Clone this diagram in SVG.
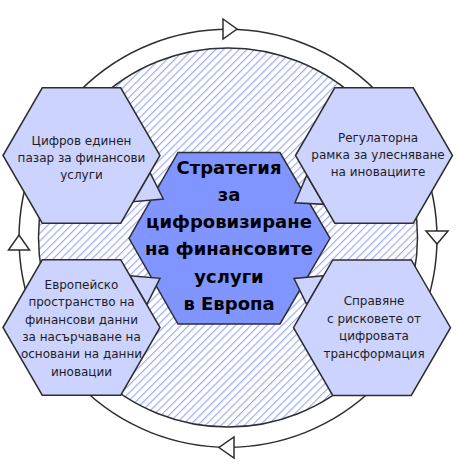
<svg xmlns="http://www.w3.org/2000/svg" width="458" height="467" viewBox="0 0 458 467">
<style>
.ring{fill:none;stroke:#2e2e2e;stroke-width:1.5}
.inner{fill:url(#hatch);stroke:#2e2e2e;stroke-width:1.5}
.arr{fill:#ffffff;stroke:#2e2e2e;stroke-width:1.5;stroke-linejoin:miter}
.hex{fill:#ccd3ff;stroke:#2e2e2e;stroke-width:1.5;stroke-linejoin:miter}
.core{fill:#8095ff;stroke:#2e2e2e;stroke-width:1.5}
.lbl{font-family:"DejaVu Sans","Liberation Sans",sans-serif;font-size:12px;fill:#1e1e1e;text-anchor:middle}
.title{font-family:"DejaVu Sans","Liberation Sans",sans-serif;font-size:18px;font-weight:bold;fill:#000000;text-anchor:middle}
</style>
<defs>
<pattern id="hatch" width="5.5" height="5.5" patternUnits="userSpaceOnUse" patternTransform="rotate(45)">
<rect width="5.5" height="5.5" fill="#ffffff"/>
<line x1="0.6" y1="0" x2="0.6" y2="5.5" stroke="#8c9df2" stroke-width="1"/>
</pattern>
</defs>
<rect width="458" height="467" fill="#ffffff"/>
<g id="connectors">
<circle class="ring" cx="228" cy="238.3" r="209"/>
<polygon class="arr" points="223,19 237,29 223,39"/>
<polygon class="arr" points="426,231 448,231 437,244"/>
<polygon class="arr" points="234,437 234,458 219,447.5"/>
<polygon class="arr" points="8.5,250 29.5,250 19,235"/>
<circle class="inner" cx="228" cy="237.5" r="189.5"/>
</g>
<g id="center">
<polygon class="core" points="129,238.3 178,152.5 280,152.5 330,238.3 280,324 178,324"/>
<text class="title" x="229" y="173.5">Стратегия</text>
<text class="title" x="229" y="200.8">за</text>
<text class="title" x="229" y="228.1">цифровизиране</text>
<text class="title" x="229" y="255.4">на финансовите</text>
<text class="title" x="229" y="282.7">услуги</text>
<text class="title" x="229" y="310">в Европа</text>
</g>
<g id="node-top-left">
<polygon class="hex" points="150,172.7 163.3,199 133.2,201.7"/>
<polygon class="hex" points="3,155.5 42.25,87.75 120.75,87.75 160,155.5 120.75,223.25 42.25,223.25"/>
<text class="lbl" x="81.5" y="144.5">Цифров единен</text>
<text class="lbl" x="81.5" y="161.5">пазар за финансови</text>
<text class="lbl" x="81.5" y="178.5">услуги</text>
</g>
<g id="node-top-right">
<polygon class="hex" points="306.8,175 295,202.7 323.8,204.3"/>
<polygon class="hex" points="295.5,155.5 334.75,87.75 413.25,87.75 452.5,155.5 413.25,223.25 334.75,223.25"/>
<text class="lbl" x="378" y="142">Регулаторна</text>
<text class="lbl" x="378" y="159">рамка за улесняване</text>
<text class="lbl" x="378" y="176">на иновациите</text>
</g>
<g id="node-bottom-left">
<polygon class="hex" points="130,275.7 160,278.3 146.8,304.7"/>
<polygon class="hex" points="3,327.5 42.25,259.75 120.75,259.75 160,327.5 120.75,395.25 42.25,395.25"/>
<text class="lbl" x="81.5" y="289">Европейско</text>
<text class="lbl" x="81.5" y="306.3">пространство на</text>
<text class="lbl" x="81.5" y="323.6">финансови данни</text>
<text class="lbl" x="81.5" y="340.9">за насърчаване на</text>
<text class="lbl" x="81.5" y="358.2">основани на данни</text>
<text class="lbl" x="81.5" y="375.5">иновации</text>
</g>
<g id="node-bottom-right">
<polygon class="hex" points="323.6,275.7 294,278.5 306.8,304.7"/>
<polygon class="hex" points="293.5,327.7 332.75,259.95 411.25,259.95 450.5,327.7 411.25,395.45 332.75,395.45"/>
<text class="lbl" x="374" y="305">Справяне</text>
<text class="lbl" x="374" y="322.5">с рисковете от</text>
<text class="lbl" x="374" y="340">цифровата</text>
<text class="lbl" x="374" y="357.5">трансформация</text>
</g>
</svg>
